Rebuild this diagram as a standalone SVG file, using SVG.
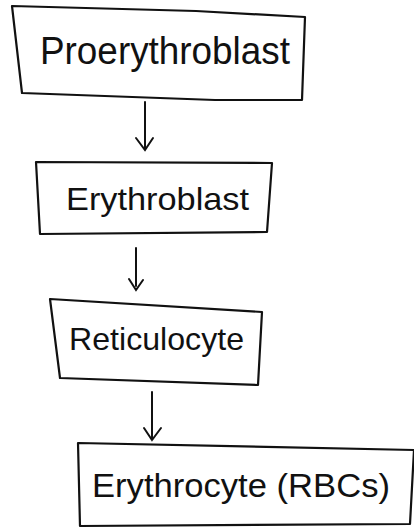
<svg xmlns="http://www.w3.org/2000/svg" width="414" height="531" viewBox="0 0 414 531">
<style>
.box{fill:none;stroke:#111;stroke-width:2.2;stroke-linejoin:round}
.lbl{font-family:"Liberation Sans",Arial,sans-serif;fill:#111;font-weight:normal}
.arr{fill:none;stroke:#111;stroke-width:2;stroke-linecap:round}
</style>
<rect width="414" height="531" fill="#fff"/>
<g id="proerythroblast">
<polygon class="box" points="12,6 196,11 305,17 302,100 215,100 22,93"/>
<text class="lbl" x="40" y="64" font-size="38" textLength="250" lengthAdjust="spacingAndGlyphs">Proerythroblast</text>
</g>
<g id="erythroblast">
<polygon class="box" points="36,162 272,163 267,232 40,234"/>
<text class="lbl" x="66" y="210" font-size="32" textLength="183" lengthAdjust="spacingAndGlyphs">Erythroblast</text>
</g>
<g id="reticulocyte">
<polygon class="box" points="50,299 262,312 258,385 60,378"/>
<text class="lbl" x="69" y="350" font-size="32" textLength="175" lengthAdjust="spacingAndGlyphs">Reticulocyte</text>
</g>
<g id="erythrocyte">
<polygon class="box" points="78,443 414,450 410,524 80,526"/>
<text class="lbl" x="92" y="497" font-size="34" textLength="298" lengthAdjust="spacingAndGlyphs">Erythrocyte (RBCs)</text>
</g>
<g id="connectors">
<path class="arr" d="M145,102 V148 M136,138 L145,150 L153,138"/>
<path class="arr" d="M136,248 V286 M129,279 L136,290 L143,280"/>
<path class="arr" d="M152,392 V440 M144,428 L152,440 L161,428"/>
</g>
</svg>
